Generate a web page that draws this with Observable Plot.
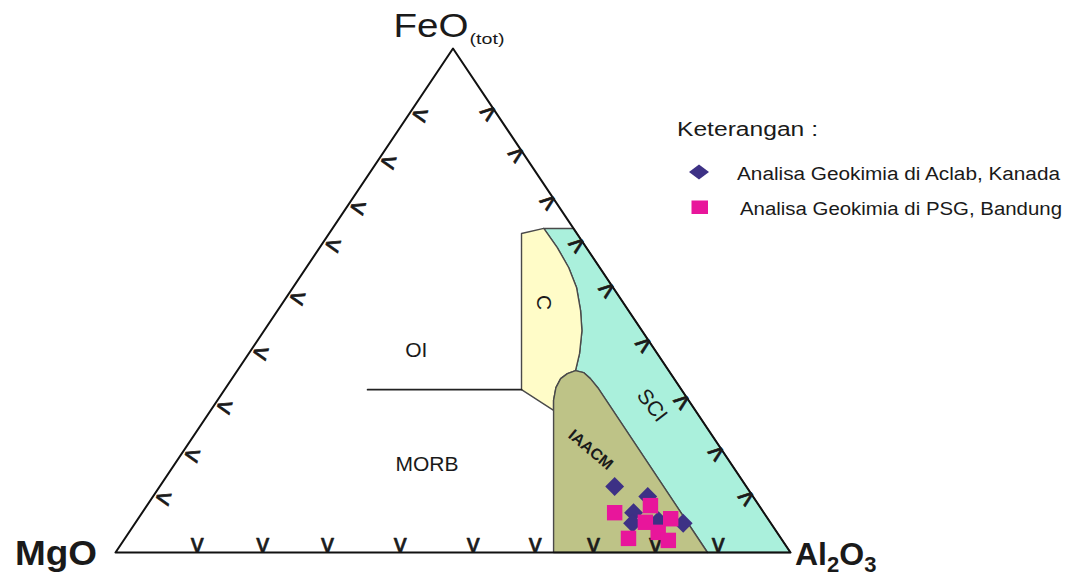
<!DOCTYPE html>
<html>
<head>
<meta charset="utf-8">
<script src="https://cdn.jsdelivr.net/npm/d3@7"></script>
<script src="https://cdn.jsdelivr.net/npm/@observablehq/plot@0.6"></script>
<style>
  html, body { margin: 0; padding: 0; background: #fff; }
  #chart { width: 1077px; height: 576px; }
  #chart svg { display: block; }
</style>
</head>
<body>
<div id="chart"></div>
<script>
// Ternary compositions, each as [MgO, FeO(tot), Al2O3] in percent.

// Continental field (C)
const fieldC = [
  [8.2, 63.3, 28.5], [4.4, 64.3, 31.3], [4.3, 60.5, 35.2], [4.6, 56.5, 38.9],
  [5.4, 52.6, 42.0], [7.1, 48.0, 44.9], [8.9, 44.0, 47.1], [11.5, 39.5, 49.0],
  [13.8, 36.1, 50.1], [15.3, 35.5, 49.2], [16.8, 34.5, 48.7], [18.4, 32.7, 48.9],
  [20.0, 30.2, 49.8], [21.0, 28.2, 50.8], [23.7, 32.3, 44.0], [8.2, 63.3, 28.5]
];

// Spreading centre island field (SCI)
const fieldSCI = [
  [4.4, 64.3, 31.3], [0, 64.3, 35.7], [0, 0, 100], [12.3, 0, 87.7],
  [12.2, 32.7, 55.1], [12.4, 34.5, 53.1], [12.8, 35.7, 51.5], [13.8, 36.1, 50.1],
  [11.5, 39.5, 49.0], [8.9, 44.0, 47.1], [7.1, 48.0, 44.9], [5.4, 52.6, 42.0],
  [4.6, 56.5, 38.9], [4.3, 60.5, 35.2], [4.4, 64.3, 31.3]
];

// Island arc and active continental margin field (IAACM)
const fieldIAACM = [
  [35.1, 0, 64.9], [20.0, 30.2, 49.8], [18.4, 32.7, 48.9], [16.8, 34.5, 48.7],
  [15.3, 35.5, 49.2], [13.8, 36.1, 50.1], [12.8, 35.7, 51.5], [12.4, 34.5, 53.1],
  [12.2, 32.7, 55.1], [12.3, 0, 87.7], [35.1, 0, 64.9]
];

// Ocean island / MORB divide
const oiMorbLine = [[46.5, 32.3, 21.2], [23.7, 32.3, 44.0]];

// Diagram outline
const outline = [[100, 0, 0], [0, 100, 0], [0, 0, 100], [100, 0, 0]];

// Edge chevrons: FeO on the MgO–FeO and FeO–Al2O3 edges, Al2O3 on the base
const leftTicksFeO = [86.7, 77.4, 68.3, 60.9, 50.4, 39.5, 28.8, 19.2, 10.7];
const rightTicksFeO = [87.1, 78.8, 69.4, 60.9, 52.0, 41.1, 29.8, 19.6, 10.7];
const baseTicksAl = [12.1, 21.8, 31.4, 42.2, 53.0, 62.2, 70.8, 80.0, 89.3];

// Samples
const aclabSamples = [
  [19.5, 13.1, 67.4], [15.6, 11.1, 73.3], [19.3, 7.9, 72.8],
  [20.5, 5.8, 73.7], [16.4, 6.3, 77.3], [13.0, 5.8, 81.2]
];
const psgSamples = [
  [22.1, 7.9, 70.0], [16.1, 9.3, 74.6], [18.5, 6.0, 75.5], [14.4, 6.7, 78.9],
  [17.6, 4.0, 78.4], [22.6, 2.8, 74.6], [16.9, 2.4, 80.7]
];

// Field names
const fieldNames = ["OI", "MORB", "C", "SCI"];
const fieldNamePos = [[35.4, 40.1, 24.5], [45.1, 17.5, 37.4], [11.8, 49.6, 38.6], [5.9, 29.2, 64.9]];
const fieldNameAngle = [0, 0, 90, 52];
const arcLabel = "IAACM";
const arcLabelPos = [19.4, 20.4, 60.2];

// Legend
const legendTitle = "Keterangan :";
const legendAclab = "Analisa Geokimia di Aclab, Kanada";
const legendPsg = "Analisa Geokimia di PSG, Bandung";

// Ternary -> planar coordinates (Al2O3 to the right, FeO up)
const norm = d => { const s = d[0] + d[1] + d[2]; return [d[0] / s, d[1] / s, d[2] / s]; };
const tx = d => { const n = norm(d); return (n[2] + n[1] / 2) * 100; };
const ty = d => norm(d)[1] * 100;

const font = "'Liberation Sans', Arial, Helvetica, sans-serif";
const edge = "#4a4a4a";
const ink = "#1a1a1a";

const fieldLabels = fieldNames.map((name, i) => ({name, pos: fieldNamePos[i], angle: fieldNameAngle[i]}));
const chevron = {text: () => "v", fontSize: 26, fill: ink, stroke: ink, strokeWidth: 0.7};

const plot = Plot.plot({
  width: 1077,
  height: 576,
  margin: 0,
  style: {fontFamily: font, background: "#fff"},
  x: {domain: [0, 100], range: [115, 790], axis: null},
  y: {domain: [0, 100], range: [552, 48], axis: null},
  marks: [
    Plot.line(fieldSCI, {x: tx, y: ty, fill: "#aaf0dc", stroke: edge, strokeWidth: 1.4}),
    Plot.line(fieldC, {x: tx, y: ty, fill: "#fffcc8", stroke: edge, strokeWidth: 1.4}),
    Plot.line(fieldIAACM, {x: tx, y: ty, fill: "#bec387", stroke: edge, strokeWidth: 1.4}),
    Plot.line(oiMorbLine, {x: tx, y: ty, stroke: "#222", strokeWidth: 1.8}),
    Plot.line(outline, {x: tx, y: ty, stroke: "#111", strokeWidth: 2}),
    // chevrons along the three sides
    Plot.text(leftTicksFeO, {...chevron, x: fe => fe / 2, y: fe => fe, rotate: 105, dx: 13}),
    Plot.text(rightTicksFeO, {...chevron, x: fe => 100 - fe / 2, y: fe => fe, rotate: -128, dx: -9}),
    Plot.text(baseTicksAl, {...chevron, x: al => al, y: 0, dy: -9}),
    // field names
    Plot.text(fieldLabels, {x: d => tx(d.pos), y: d => ty(d.pos), text: "name", rotate: "angle", fontSize: 21, fill: ink}),
    Plot.text([arcLabelPos], {x: tx, y: ty, text: () => arcLabel, rotate: 40, fontSize: 16, fontWeight: "bold", fill: ink}),
    // samples
    Plot.dot(aclabSamples, {x: tx, y: ty, symbol: "diamond2", r: 8.5, fill: "#3d3185", stroke: "none"}),
    Plot.dot(psgSamples, {x: tx, y: ty, symbol: "square", r: 8.7, fill: "#e8169b", stroke: "none"})
  ]
});

// Vertex labels with sub-scripts, placed from the plot's own scales
const sx = plot.scale("x"), sy = plot.scale("y");
const vx = d => sx.apply(tx(d)), vy = d => sy.apply(ty(d));
const svg = d3.select(plot);
const labels = svg.append("g").attr("font-family", font).attr("fill", ink).attr("text-anchor", "start");

const apex = [0, 100, 0], mgVertex = [100, 0, 0], alVertex = [0, 0, 100];

labels.append("text")
  .attr("x", vx(apex) - 59).attr("y", vy(apex) - 11)
  .attr("font-size", 33).attr("textLength", 75).attr("lengthAdjust", "spacingAndGlyphs")
  .text("FeO");
labels.append("text")
  .attr("x", vx(apex) + 17).attr("y", vy(apex) - 4)
  .attr("font-size", 15).attr("textLength", 35).attr("lengthAdjust", "spacingAndGlyphs")
  .text("(tot)");

labels.append("text")
  .attr("x", vx(mgVertex) - 100).attr("y", vy(mgVertex) + 13)
  .attr("font-size", 35).attr("font-weight", "bold")
  .attr("textLength", 82).attr("lengthAdjust", "spacingAndGlyphs")
  .text("MgO");

const al = labels.append("text")
  .attr("x", vx(alVertex) + 5).attr("y", vy(alVertex) + 13)
  .attr("font-size", 32).attr("font-weight", "bold");
al.append("tspan").text("Al");
al.append("tspan").attr("font-size", 22).attr("dy", 7).text("2");
al.append("tspan").attr("dy", -7).text("O");
al.append("tspan").attr("font-size", 22).attr("dy", 7).text("3");

// Legend
const legend = svg.append("g").attr("font-family", font).attr("fill", ink).attr("text-anchor", "start");
legend.append("text").attr("x", 677).attr("y", 136).attr("font-size", 20)
  .attr("textLength", 141).attr("lengthAdjust", "spacingAndGlyphs").text(legendTitle);
legend.append("path").attr("d", "M689,172L699,164.5L709,172L699,179.5Z").attr("fill", "#3d3185");
legend.append("text").attr("x", 737).attr("y", 180).attr("font-size", 18)
  .attr("textLength", 323).attr("lengthAdjust", "spacingAndGlyphs").text(legendAclab);
legend.append("rect").attr("x", 691.5).attr("y", 200.5).attr("width", 16.5).attr("height", 13.5).attr("fill", "#e8169b");
legend.append("text").attr("x", 740).attr("y", 215).attr("font-size", 18)
  .attr("textLength", 322).attr("lengthAdjust", "spacingAndGlyphs").text(legendPsg);

document.getElementById("chart").append(plot);
</script>
</body>
</html>
